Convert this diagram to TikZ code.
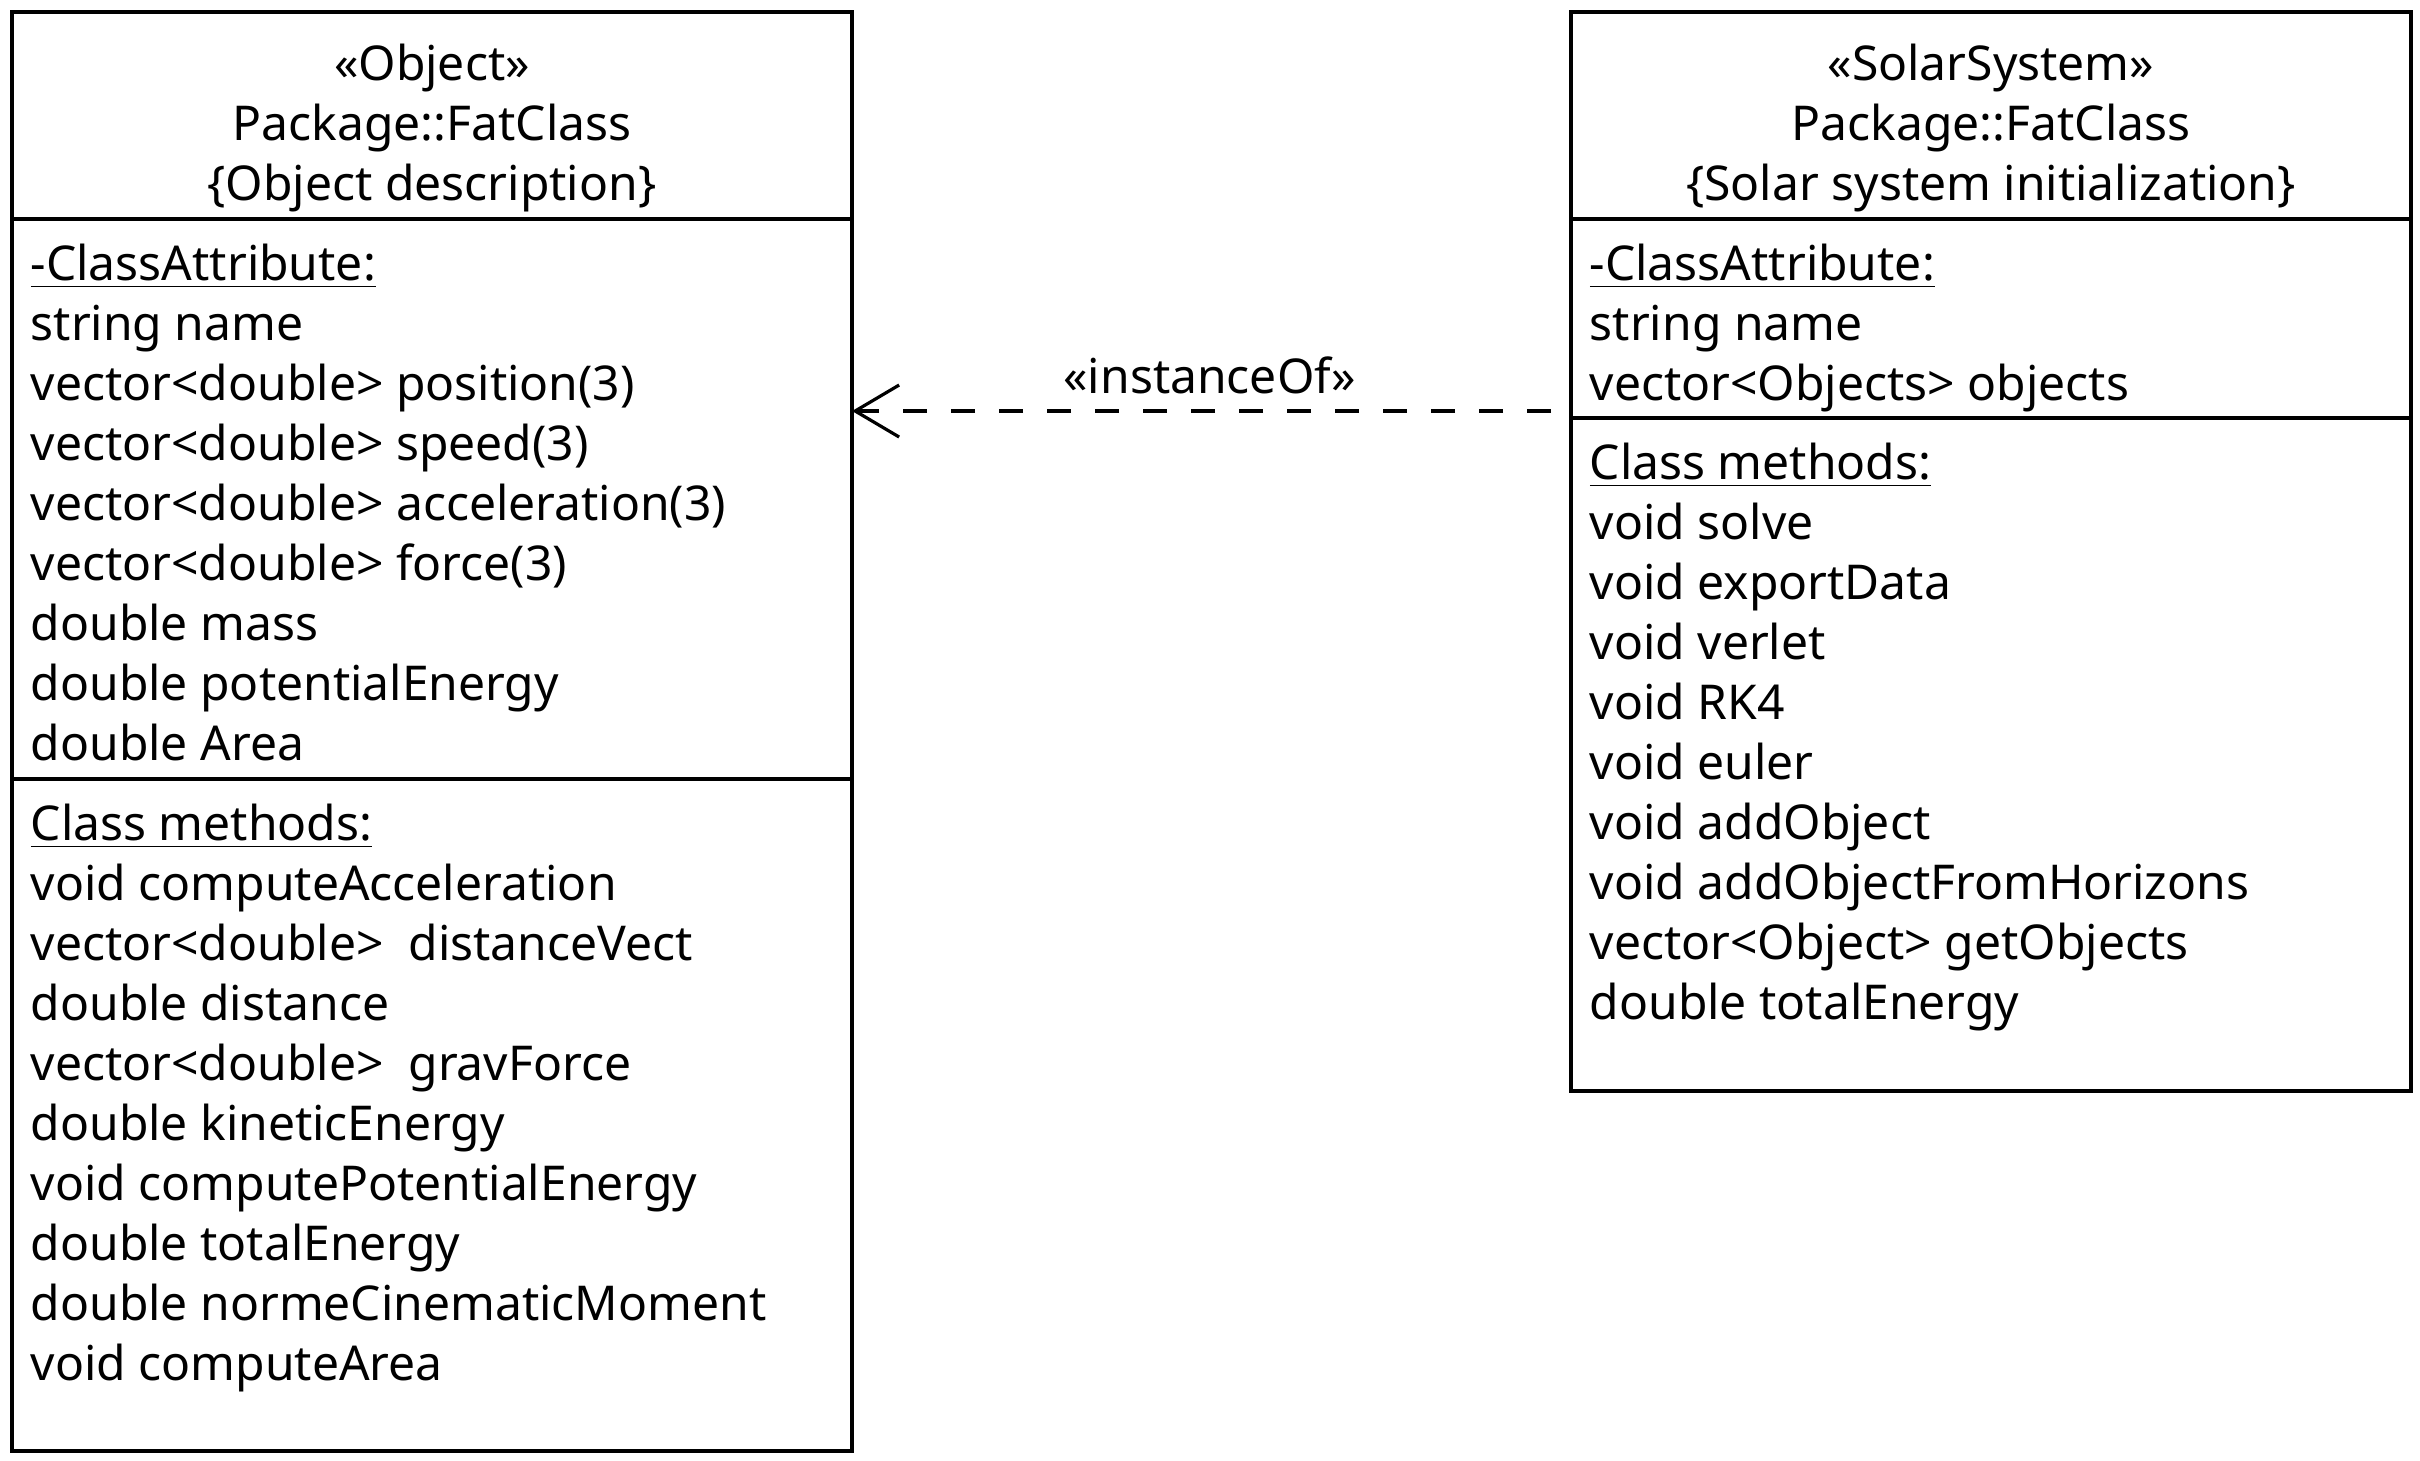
\documentclass[tikz,border=0pt]{standalone}
\usepackage{fontspec}
\setmainfont{Noto Sans}
\usepackage{tikz}
\usetikzlibrary{positioning}
\usetikzlibrary{arrows.meta}
\tikzset{
    classbox/.style={
        draw,
        line width=1pt,
        minimum width=210pt,
        inner sep=0pt,
        outer sep=0pt,
        anchor=north west
    },
    % texte des compartiments
    umltext/.style={
        inner sep=0pt,
        font={\fontsize{12}{15}\selectfont},
        execute at begin node=\strut
    },
    headtext/.style={umltext, align=center},
    membertext/.style={umltext, align=left},
    instarrow/.style={
        line width=0.8pt,
        dash pattern=on 6pt off 6pt,
        -{Straight Barb[length=11pt, width=13pt]}
    }
}

\begin{document}
\begin{tikzpicture}[x=0.25pt, y=-0.25pt]
    \useasboundingbox (0,0) rectangle (2420,1460);

    % classe Object
    \node[classbox, minimum height=51.75pt] (objHead) at (12,12) {};
    \node[classbox, minimum height=140pt] (objAttr) at (objHead.south west) {};
    \node[classbox, minimum height=168pt] (objMeth) at (objAttr.south west) {};

    \node[headtext, below=7.75pt of objHead.north] (objTitle)
        {«Object»\\Package::FatClass\\\{Object description\}};
    \node[membertext, below right=6pt and 4.5pt of objAttr.north west] (objAttrList)
        {\underline{-ClassAttribute:}\\string name\\vector<double> position(3)\\
         vector<double> speed(3)\\vector<double> acceleration(3)\\vector<double> force(3)\\
         double mass\\double potentialEnergy\\double Area};
    \node[membertext, below right=6pt and 4.5pt of objMeth.north west] (objMethList)
        {\underline{Class methods:}\\void computeAcceleration\\vector<double>\ \ distanceVect\\
         double distance\\vector<double>\ \ gravForce\\double kineticEnergy\\
         void computePotentialEnergy\\double totalEnergy\\double normeCinematicMoment\\
         void computeArea};

    % classe SolarSystem
    \node[classbox, minimum height=51.75pt] (sysHead) at (1571,12) {};
    \node[classbox, minimum height=49.75pt] (sysAttr) at (sysHead.south west) {};
    \node[classbox, minimum height=168.25pt] (sysMeth) at (sysAttr.south west) {};

    \node[headtext, below=7.75pt of sysHead.north] (sysTitle)
        {«SolarSystem»\\Package::FatClass\\\{Solar system initialization\}};
    \node[membertext, below right=6pt and 4.5pt of sysAttr.north west] (sysAttrList)
        {\underline{-ClassAttribute:}\\string name\\vector<Objects> objects};
    \node[membertext, below right=6pt and 4.5pt of sysMeth.north west] (sysMethList)
        {\underline{Class methods:}\\void solve\\void exportData\\void verlet\\void RK4\\
         void euler\\void addObject\\void addObjectFromHorizons\\vector<Object> getObjects\\
         double totalEnergy};

    % dependance instanceOf
    \coordinate (instStart) at ([xshift=-5pt, yshift=1.75pt]sysAttr.south west);
    \draw[instarrow] (instStart) -- (instStart -| objAttr.east)
        node[midway, anchor=base, xshift=2pt, yshift=4.5pt, umltext, execute at begin node={}] (instLabel) {«instanceOf»};

\end{tikzpicture}
\end{document}
